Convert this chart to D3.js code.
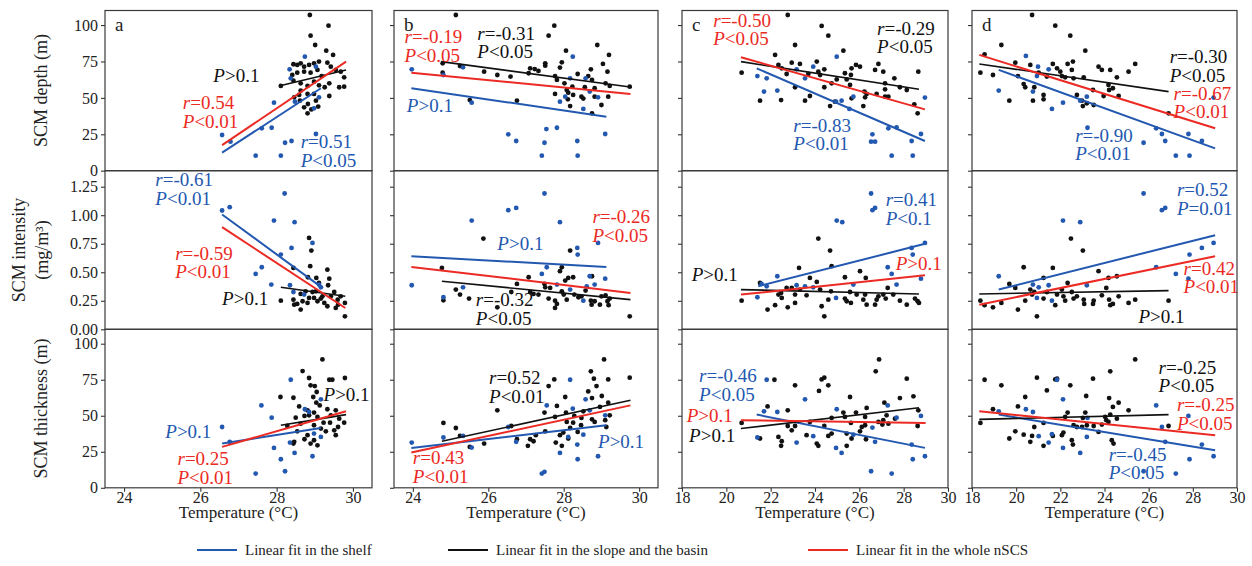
<!DOCTYPE html>
<html>
<head>
<meta charset="utf-8">
<script src="https://cdn.jsdelivr.net/npm/d3@7"></script>
<style>
body { margin: 0; background: #fff; }
svg text { font-family: "Liberation Serif", "Times New Roman", serif; }
</style>
</head>
<body>
<svg id="chart" width="1252" height="566" font-family="Liberation Serif, Times New Roman, serif"></svg>
<script>
// axes
var tempDomain = [[23.5, 30.5], [23.5, 30.5], [18, 30], [18, 30]];
var tempTicks = [[24, 26, 28, 30], [24, 26, 28, 30], [18, 20, 22, 24, 26, 28, 30], [18, 20, 22, 24, 26, 28, 30]];
var valueDomain = [[0, 110], [0, 1.39], [0, 110]];
var valueTicks = [[0, 25, 50, 75, 100], [0, 0.25, 0.5, 0.75, 1, 1.25], [0, 25, 50, 75, 100]];
var rowTitles = [["SCM depth (m)"], ["SCM intensity", "(mg/m\u00b3)"], ["SCM thickness (m)"]];
var panelLetters = ["a", "b", "c", "d"];
var legendItems = [
  {s: "shelf", label: "Linear fit in the shelf"},
  {s: "basin", label: "Linear fit in the slope and the basin"},
  {s: "whole", label: "Linear fit in the whole nSCS"}
];

// SCM depth
var aDepthShelf = [[28.74,78.3],[28.34,69.6],[28.37,63.4],[29.03,71.4],[27.93,46.7],[28.48,47.4],[28.98,42.8],[29.11,50.4],[26.57,24.5],[26.79,19.9],[27.61,29.1],[27.87,29.5],[29.03,25.2],[28.22,19.2],[28.39,20.4],[27.45,10.3],[28.11,10.3]];
var aDepthBasin = [[28.87,106.9],[29.36,99.6],[28.89,92.7],[29.01,86.3],[29.30,82.4],[29.48,79.5],[28.44,73.1],[28.54,72.6],[28.63,73.7],[28.72,71.4],[28.85,72.6],[28.98,73.7],[29.11,74.9],[29.33,74.2],[29.42,71.4],[29.55,69.2],[29.68,68.0],[29.77,64.1],[29.64,57.3],[29.77,57.7],[28.72,68.0],[28.89,67.3],[29.07,69.2],[29.18,65.0],[28.54,67.3],[28.41,65.7],[28.11,58.2],[28.44,61.8],[28.63,60.0],[28.81,58.2],[28.98,61.1],[29.11,58.6],[29.26,57.3],[29.38,60.0],[28.63,55.0],[28.81,52.7],[28.46,50.4],[28.98,52.7],[28.61,48.1],[28.82,45.8],[29.03,48.1],[29.38,51.3],[28.72,43.5],[28.91,42.1],[28.81,39.4],[29.09,44.0],[28.59,52.0]];
var aDepthFit = {shelf: [[26.57,12.4],[29.16,56.6]], basin: [[28.06,58.2],[29.82,69.2]], whole: [[26.57,17.6],[29.82,74.9]]};
var aDepthText = [{s:"basin", x:26.34, y:61.1, lines:["P>0.1"]}, {s:"whole", x:25.54, y:42.2, lines:["r=0.54","P<0.01"]}, {s:"shelf", x:28.63, y:15.4, lines:["r=0.51","P<0.05"]}];

var bDepthShelf = [[23.97,69.6],[24.81,65.7],[25.33,71.0],[25.56,46.7],[28.24,78.3],[28.17,63.4],[27.9,47.4],[28.04,50.8],[28.58,63.4],[28.52,42.4],[28.69,54.3],[28.91,50.4],[26.53,25.0],[26.74,20.4],[27.54,28.6],[27.82,29.5],[27.49,19.2],[27.42,10.3],[28.36,20.4],[28.37,10.3],[29.1,25.2]];
var bDepthBasin = [[25.14,106.9],[27.75,99.6],[27.6,92.7],[28.06,82.4],[28.89,86.3],[29.2,79.5],[24.79,73.7],[24.79,67.3],[25.25,71.9],[25.89,68.0],[26.24,65.7],[26.59,64.6],[27.07,66.9],[27.11,70.3],[27.23,69.8],[27.33,68.5],[27.51,73.7],[27.51,72.1],[27.95,74.4],[27.9,70.8],[27.77,65.0],[27.82,62.3],[28.02,60.0],[27.77,52.7],[28.12,53.6],[28.11,49.0],[28.17,44.4],[28.25,52.0],[28.37,66.4],[28.47,50.8],[28.52,49.5],[28.65,65.0],[28.72,69.6],[28.75,62.3],[28.82,50.8],[28.82,56.6],[28.75,39.4],[29.0,45.1],[29.04,73.3],[29.16,68.0],[29.11,60.0],[29.22,58.2],[29.18,50.8],[29.75,57.7],[25.51,48.5],[26.76,48.1],[28.23,57.7],[28.08,55.4],[28.56,57.3]];
var bDepthFit = {shelf: [[23.96,56.6],[29.13,37.1]], basin: [[24.75,74.9],[29.81,57.3]], whole: [[23.96,67.3],[29.77,52.7]]};
var bDepthText = [{s:"whole", x:23.78, y:87.5, lines:["r=-0.19","P<0.05"]}, {s:"basin", x:25.71, y:89.8, lines:["r=-0.31","P<0.05"]}, {s:"shelf", x:23.84, y:40.5, lines:["P>0.1"]}];

var cDepthShelf = [[21.4,65.0],[21.82,63.4],[21.7,54.3],[22.3,55.0],[23.17,69.6],[23.55,63.4],[23.92,71.4],[24.98,78.3],[24.95,47.4],[25.2,48.1],[25.55,42.4],[25.73,50.8],[26.59,25.0],[26.53,19.9],[26.71,19.9],[27.31,29.1],[27.68,29.8],[27.46,10.3],[28.36,20.4],[28.41,10.3],[28.78,25.2],[28.96,50.2]];
var cDepthBasin = [[20.69,67.3],[21.52,48.1],[22.2,79.5],[22.35,72.6],[22.5,70.3],[22.47,48.5],[22.77,106.9],[22.72,66.4],[22.95,74.2],[23.1,86.3],[23.32,73.3],[23.1,57.3],[23.55,48.1],[23.77,51.3],[23.7,66.4],[24.08,74.9],[24.15,68.0],[24.23,65.7],[24.42,69.6],[24.3,99.4],[24.6,92.7],[24.42,57.3],[24.68,44.4],[24.75,60.0],[24.9,47.4],[24.98,62.7],[25.28,82.4],[25.35,66.9],[25.43,62.7],[25.62,65.7],[25.58,58.9],[25.65,70.3],[25.85,72.6],[26.03,71.4],[25.65,49.7],[26.23,54.3],[26.26,50.4],[26.33,52.7],[26.18,44.4],[26.71,69.2],[26.86,73.3],[27.08,68.0],[27.16,60.0],[27.16,55.9],[27.58,63.4],[27.16,50.8],[27.31,50.8],[27.83,57.3],[28.14,55.4],[26.78,52.7],[28.66,68.0],[28.48,45.6],[28.63,39.4]];
var cDepthFit = {shelf: [[21.37,70.3],[28.96,20.4]], basin: [[20.66,74.9],[28.69,55.9]], whole: [[20.66,77.9],[28.96,42.1]]};
var cDepthText = [{s:"whole", x:19.41, y:98.9, lines:["r=-0.50","P<0.05"]}, {s:"basin", x:26.8, y:93.2, lines:["r=-0.29","P<0.05"]}, {s:"shelf", x:23.02, y:26.8, lines:["r=-0.83","P<0.01"]}];

var dDepthShelf = [[19.21,55.0],[20.44,78.8],[20.76,54.3],[20.94,65.0],[20.99,71.4],[21.47,69.6],[21.62,42.4],[22.12,46.7],[22.9,48.1],[23.2,50.8],[23.23,29.5],[25.77,19.2],[26.34,29.1],[26.6,25.2],[26.75,20.4],[27.23,10.3],[27.8,25.2],[27.85,10.3],[28.41,20.4],[28.94,50.2]];
var dDepthBasin = [[18.38,67.3],[18.57,79.9],[18.95,65.7],[19.33,86.3],[19.69,48.1],[19.96,74.2],[20.08,65.0],[20.34,59.5],[20.41,57.3],[20.64,72.6],[20.72,106.9],[20.82,57.3],[20.76,48.1],[21.02,67.3],[21.24,52.0],[21.24,49.0],[21.39,64.6],[21.66,73.3],[21.77,99.6],[21.85,70.3],[22.0,68.0],[22.07,65.0],[22.22,64.1],[22.33,73.3],[22.45,92.7],[22.52,69.2],[22.57,74.9],[22.6,63.4],[22.75,52.0],[22.98,48.1],[23.06,64.1],[23.02,44.4],[23.13,82.4],[23.2,46.3],[23.51,45.1],[23.48,55.4],[23.73,71.4],[23.88,69.2],[23.96,51.3],[24.18,58.9],[24.21,55.4],[24.26,69.2],[24.38,56.6],[24.56,64.1],[24.64,51.3],[25.09,68.0],[25.39,73.3],[26.9,39.4]];
var dDepthFit = {shelf: [[19.21,69.2],[29.01,15.3]], basin: [[18.33,73.3],[26.9,54.3]], whole: [[18.33,79.5],[29.01,29.1]]};
var dDepthText = [{s:"basin", x:26.95, y:73.8, lines:["r=-0.30","P<0.05"]}, {s:"whole", x:27.13, y:48.6, lines:["r=-0.67","P<0.01"]}, {s:"shelf", x:22.67, y:19.9, lines:["r=-0.90","P<0.01"]}];

// SCM intensity
var aIntShelf = [[26.57,1.041],[26.77,1.070],[28.21,1.190],[27.93,0.953],[28.47,0.939],[28.39,0.713],[28.11,0.655],[28.94,0.757],[27.61,0.544],[27.45,0.485],[27.86,0.392],[28.35,0.386],[28.44,0.327],[28.72,0.304],[29.16,0.368],[29.11,0.392]];
var aIntBasin = [[28.85,0.801],[28.91,0.690],[28.88,0.553],[28.44,0.538],[28.82,0.456],[29.04,0.450],[29.33,0.523],[29.11,0.406],[29.38,0.444],[29.35,0.386],[28.11,0.251],[28.44,0.260],[28.63,0.310],[28.76,0.333],[28.94,0.327],[28.98,0.275],[28.54,0.222],[28.63,0.173],[28.81,0.231],[29.07,0.246],[29.2,0.289],[29.25,0.231],[29.42,0.289],[29.51,0.327],[29.6,0.260],[29.61,0.216],[29.68,0.289],[29.79,0.231],[29.79,0.114],[28.85,0.275],[28.68,0.246],[28.46,0.216],[29.33,0.202],[29.55,0.187],[29.03,0.333],[29.16,0.269]];
var aIntFit = {shelf: [[26.57,1.006],[29.2,0.363]], basin: [[28.11,0.368],[29.8,0.289]], whole: [[26.57,0.895],[29.8,0.187]]};
var aIntText = [{s:"shelf", x:24.82, y:1.252, lines:["r=-0.61","P<0.01"]}, {s:"whole", x:25.34, y:0.609, lines:["r=-0.59","P<0.01"]}, {s:"basin", x:26.57, y:0.215, lines:["P>0.1"]}];

var bIntShelf = [[23.97,0.386],[24.81,0.281],[25.33,0.368],[25.56,0.953],[26.53,1.044],[26.74,1.064],[27.49,1.190],[27.9,0.939],[28.36,0.713],[28.37,0.655],[28.91,0.757],[27.55,0.544],[27.42,0.485],[27.82,0.392],[28.17,0.348],[28.52,0.251],[28.69,0.465],[28.82,0.392],[29.1,0.444],[28.61,0.377]];
var bIntBasin = [[24.77,0.538],[24.81,0.254],[25.14,0.348],[25.25,0.304],[25.49,0.269],[25.87,0.795],[26.24,0.193],[26.61,0.327],[26.76,0.398],[27.07,0.456],[27.11,0.327],[27.2,0.310],[27.33,0.304],[27.49,0.398],[27.51,0.368],[27.6,0.269],[27.77,0.251],[27.77,0.187],[27.82,0.222],[27.9,0.509],[27.95,0.544],[28.04,0.427],[28.0,0.304],[28.08,0.260],[28.12,0.450],[28.17,0.690],[28.25,0.456],[28.28,0.304],[28.39,0.281],[28.47,0.289],[28.58,0.339],[28.72,0.251],[28.74,0.216],[28.75,0.465],[28.82,0.246],[28.96,0.216],[29.0,0.289],[29.11,0.298],[29.16,0.246],[29.19,0.211],[29.22,0.269],[29.75,0.114],[27.64,0.363],[27.95,0.333]];
var bIntFit = {shelf: [[23.96,0.640],[29.13,0.547]], basin: [[24.77,0.421],[29.77,0.260]], whole: [[23.96,0.547],[29.77,0.319]]};
var bIntText = [{s:"shelf", x:26.24, y:0.697, lines:["P>0.1"]}, {s:"whole", x:28.76, y:0.931, lines:["r=-0.26","P<0.05"]}, {s:"basin", x:25.67, y:0.201, lines:["r=-0.32","P<0.05"]}];

var cIntShelf = [[21.4,0.281],[21.59,0.398],[21.82,0.377],[22.3,0.465],[23.17,0.386],[23.55,0.377],[23.92,0.368],[24.98,0.953],[25.23,0.939],[24.95,0.275],[25.73,0.392],[26.53,1.190],[26.59,1.044],[26.71,1.064],[27.28,0.544],[27.46,0.485],[27.68,0.392],[28.36,0.713],[28.41,0.655],[28.78,0.444],[28.96,0.757]];
var cIntBasin = [[20.69,0.251],[21.52,0.406],[21.86,0.173],[22.2,0.211],[22.35,0.304],[22.5,0.275],[22.47,0.319],[22.72,0.363],[22.77,0.193],[22.95,0.363],[23.1,0.304],[23.1,0.231],[23.28,0.538],[23.32,0.348],[23.62,0.298],[23.77,0.450],[24.08,0.415],[24.15,0.795],[24.23,0.348],[24.3,0.202],[24.42,0.114],[24.6,0.260],[24.68,0.690],[24.75,0.553],[24.72,0.333],[25.35,0.456],[25.35,0.269],[25.43,0.246],[25.58,0.327],[25.62,0.231],[25.88,0.304],[26.03,0.509],[26.18,0.260],[26.26,0.304],[26.33,0.216],[26.29,0.450],[26.71,0.216],[26.78,0.260],[26.86,0.289],[27.08,0.304],[27.19,0.269],[27.28,0.363],[27.53,0.304],[27.83,0.251],[28.14,0.216],[28.51,0.269],[28.63,0.246],[28.69,0.231]];
var cIntFit = {shelf: [[21.44,0.377],[28.96,0.749]], basin: [[20.66,0.348],[28.69,0.310]], whole: [[20.66,0.304],[28.96,0.474]]};
var cIntText = [{s:"shelf", x:27.19, y:1.077, lines:["r=0.41","P<0.1"]}, {s:"whole", x:27.64, y:0.522, lines:["P>0.1"]}, {s:"basin", x:18.44, y:0.420, lines:["P>0.1"]}];

var dIntShelf = [[19.21,0.465],[20.76,0.392],[21.02,0.368],[20.94,0.275],[21.47,0.386],[21.62,0.251],[22.12,0.953],[22.9,0.939],[23.2,0.386],[25.77,1.190],[26.6,1.044],[26.75,1.064],[26.34,0.544],[27.23,0.485],[27.8,0.444],[27.85,0.655],[28.41,0.713],[28.94,0.757]];
var dIntBasin = [[18.38,0.251],[18.57,0.211],[18.95,0.193],[19.33,0.231],[19.69,0.398],[19.96,0.363],[20.08,0.173],[20.34,0.544],[20.41,0.251],[20.64,0.348],[20.72,0.304],[20.82,0.327],[20.94,0.114],[21.24,0.450],[21.24,0.269],[21.39,0.327],[21.66,0.538],[21.77,0.211],[21.85,0.304],[22.07,0.348],[22.14,0.289],[22.22,0.251],[22.33,0.406],[22.48,0.795],[22.52,0.327],[22.6,0.269],[22.75,0.289],[23.02,0.690],[23.06,0.260],[23.08,0.222],[23.48,0.222],[23.51,0.251],[23.73,0.509],[23.88,0.298],[24.08,0.363],[24.18,0.450],[24.21,0.260],[24.26,0.211],[24.38,0.222],[24.56,0.465],[24.64,0.289],[25.09,0.231],[25.39,0.260],[26.9,0.251]];
var dIntFit = {shelf: [[19.21,0.348],[29.01,0.825]], basin: [[18.33,0.310],[26.9,0.339]], whole: [[18.33,0.216],[29.01,0.640]]};
var dIntText = [{s:"shelf", x:27.28, y:1.165, lines:["r=0.52","P=0.01"]}, {s:"whole", x:27.58, y:0.478, lines:["r=0.42","P<0.01"]}, {s:"basin", x:25.54, y:0.055, lines:["P>0.1"]}];

// SCM thickness
var aThickShelf = [[26.57,42.2],[26.77,31.9],[27.6,57.2],[27.87,48.7],[28.37,75.0],[28.74,54.5],[28.85,52.6],[29.16,61.4],[28.98,37.6],[29.16,35.3],[27.93,27.7],[28.35,31.4],[28.47,24.2],[28.11,19.8],[28.94,21.9],[27.45,9.9],[28.22,11.5]];
var aThickBasin = [[29.2,89.1],[28.68,81.0],[28.85,76.2],[29.38,75.0],[29.46,75.0],[29.79,76.2],[28.89,71.1],[29.0,70.6],[29.05,66.5],[28.1,63.0],[28.44,62.5],[28.96,63.0],[29.04,59.1],[29.13,57.2],[28.59,56.5],[28.81,53.8],[29.33,54.5],[29.55,53.8],[28.98,52.2],[28.5,48.7],[28.73,49.9],[28.85,50.3],[29.07,49.2],[29.23,45.2],[29.4,45.2],[29.77,45.2],[29.61,42.2],[29.64,48.0],[28.63,44.5],[28.54,39.2],[28.73,33.7],[28.81,36.5],[28.98,33.0],[29.07,29.5],[28.89,30.7],[28.46,31.9],[28.44,30.7],[29.29,39.2],[29.55,36.5],[28.28,42.9],[28.98,43.4],[29.16,41.1],[29.42,50.3],[29.51,39.9]];
var aThickFit = {shelf: [[26.57,30.7],[29.16,41.5]], basin: [[28.11,43.4],[29.82,50.8]], whole: [[26.57,28.4],[29.82,53.1]]};
var aThickText = [{s:"basin", x:29.23, y:60.1, lines:["P>0.1"]}, {s:"shelf", x:25.08, y:34.3, lines:["P>0.1"]}, {s:"whole", x:25.4, y:15.8, lines:["r=0.25","P<0.01"]}];

var bThickShelf = [[23.97,31.4],[24.81,34.9],[25.33,36.0],[25.56,27.9],[26.53,42.2],[26.74,31.9],[27.55,57.2],[27.42,9.9],[27.49,11.1],[27.9,24.2],[28.17,75.0],[28.24,54.9],[28.36,30.0],[28.37,19.8],[28.58,61.4],[28.52,36.9],[28.91,21.9],[29.1,50.3],[28.69,53.8],[28.12,35.3]];
var bThickBasin = [[24.81,45.0],[25.14,41.5],[25.25,36.0],[25.51,28.4],[25.89,30.7],[26.24,53.8],[26.61,42.9],[26.76,33.7],[27.05,29.1],[27.11,33.7],[27.2,32.3],[27.26,36.5],[27.49,52.2],[27.51,39.2],[27.6,70.6],[27.75,75.2],[27.77,49.2],[27.79,31.4],[27.82,56.8],[27.9,36.5],[27.95,29.1],[27.99,38.3],[28.04,63.0],[28.06,52.2],[28.08,45.7],[28.12,34.2],[28.17,41.5],[28.25,45.2],[28.28,49.9],[28.37,38.8],[28.46,43.4],[28.47,48.5],[28.52,53.1],[28.65,66.9],[28.72,80.8],[28.75,47.5],[28.75,62.3],[28.8,75.7],[28.87,70.6],[28.82,45.7],[29.01,63.7],[29.07,89.1],[29.1,46.9],[29.13,42.2],[29.18,75.2],[29.18,59.1],[29.22,50.3],[29.75,76.4],[28.96,56.1]];
var bThickFit = {shelf: [[23.96,27.7],[29.13,43.4]], basin: [[24.77,32.3],[29.77,60.7]], whole: [[23.96,24.5],[29.77,57.2]]};
var bThickText = [{s:"basin", x:26.02, y:71.7, lines:["r=0.52","P<0.01"]}, {s:"shelf", x:28.91, y:27.8, lines:["P>0.1"]}, {s:"whole", x:24.0, y:16.3, lines:["r=0.43","P<0.01"]}];

var cThickShelf = [[21.4,34.9],[21.7,53.1],[21.82,75.0],[22.3,52.6],[23.17,31.4],[23.55,61.4],[23.92,35.8],[24.95,27.7],[24.98,54.5],[25.2,24.2],[25.73,36.9],[26.53,11.5],[26.59,41.8],[26.71,31.9],[27.28,57.2],[27.46,9.9],[27.68,48.7],[28.36,30.0],[28.41,19.8],[28.78,49.9],[28.96,21.9]];
var cThickBasin = [[20.69,45.0],[21.52,34.2],[21.86,56.5],[22.17,75.0],[22.35,35.3],[22.5,32.3],[22.47,29.1],[22.77,53.8],[22.77,42.9],[22.95,39.9],[23.1,71.1],[23.1,42.9],[23.62,36.5],[23.77,45.7],[24.08,30.7],[24.15,29.1],[24.18,67.2],[24.3,75.2],[24.42,76.4],[24.6,71.1],[24.42,42.9],[24.6,36.0],[24.75,37.6],[24.75,48.5],[25.28,52.2],[25.35,49.2],[25.43,37.6],[25.43,29.1],[25.58,63.0],[25.62,45.0],[25.65,34.2],[25.85,52.2],[26.03,39.2],[26.11,42.2],[26.26,49.2],[26.26,43.4],[26.33,55.4],[26.3,33.7],[26.74,80.8],[26.89,89.1],[27.04,43.9],[27.08,46.9],[27.13,59.1],[27.23,50.3],[27.61,48.0],[27.83,62.3],[28.14,75.7],[28.44,63.5],[28.66,53.8],[28.63,42.9],[27.31,44.5],[26.86,45.7]];
var cThickFit = {shelf: [[21.37,50.8],[28.96,27.7]], basin: [[20.66,41.1],[28.69,55.6]], whole: [[20.66,46.9],[28.99,45.0]]};
var cThickText = [{s:"shelf", x:18.77, y:73.1, lines:["r=-0.46","P<0.05"]}, {s:"whole", x:18.21, y:45.8, lines:["P>0.1"]}, {s:"basin", x:18.32, y:31.5, lines:["P>0.1"]}];

var dThickShelf = [[19.21,53.1],[20.44,54.5],[20.76,52.6],[21.02,35.8],[21.47,31.4],[21.62,37.2],[21.85,75.0],[22.12,61.4],[22.12,27.7],[22.9,24.2],[23.2,35.3],[23.23,48.5],[25.77,11.5],[26.34,57.2],[26.6,42.2],[26.75,31.9],[27.23,9.9],[27.8,49.9],[27.85,19.8],[28.41,30.0],[28.94,21.9]];
var dThickBasin = [[18.38,45.0],[18.57,75.0],[18.95,54.5],[19.33,71.1],[19.69,34.2],[19.96,39.2],[20.08,56.5],[20.34,36.9],[20.41,63.0],[20.64,31.9],[20.72,36.0],[20.82,42.2],[20.94,76.4],[21.24,29.1],[21.24,45.0],[21.39,67.6],[21.66,36.0],[21.77,75.2],[21.85,75.7],[22.07,36.5],[22.14,38.3],[22.22,49.2],[22.33,52.2],[22.45,71.1],[22.52,33.0],[22.57,30.0],[22.6,43.4],[22.75,42.2],[22.98,42.2],[23.02,48.5],[23.13,52.2],[23.17,63.7],[23.2,43.4],[23.48,75.7],[23.51,42.9],[23.73,38.8],[23.88,43.9],[24.08,46.9],[24.18,45.7],[24.21,62.3],[24.26,80.8],[24.26,50.8],[24.33,33.0],[24.38,56.1],[24.41,30.7],[24.56,48.0],[24.64,59.1],[25.09,53.8],[25.39,89.1],[26.9,42.9],[24.03,49.2]];
var dThickFit = {shelf: [[19.21,50.8],[29.01,26.1]], basin: [[18.33,47.5],[26.9,50.8]], whole: [[18.33,53.1],[29.01,36.5]]};
var dThickText = [{s:"basin", x:26.45, y:79.3, lines:["r=-0.25","P<0.05"]}, {s:"whole", x:27.28, y:53.2, lines:["r=-0.25","P<0.05"]}, {s:"shelf", x:24.19, y:18.6, lines:["r=-0.45","P<0.05"]}];

var panels = [
  {row:0, col:0, shelf:aDepthShelf, basin:aDepthBasin, fit:aDepthFit, text:aDepthText},
  {row:0, col:1, shelf:bDepthShelf, basin:bDepthBasin, fit:bDepthFit, text:bDepthText},
  {row:0, col:2, shelf:cDepthShelf, basin:cDepthBasin, fit:cDepthFit, text:cDepthText},
  {row:0, col:3, shelf:dDepthShelf, basin:dDepthBasin, fit:dDepthFit, text:dDepthText},
  {row:1, col:0, shelf:aIntShelf, basin:aIntBasin, fit:aIntFit, text:aIntText},
  {row:1, col:1, shelf:bIntShelf, basin:bIntBasin, fit:bIntFit, text:bIntText},
  {row:1, col:2, shelf:cIntShelf, basin:cIntBasin, fit:cIntFit, text:cIntText},
  {row:1, col:3, shelf:dIntShelf, basin:dIntBasin, fit:dIntFit, text:dIntText},
  {row:2, col:0, shelf:aThickShelf, basin:aThickBasin, fit:aThickFit, text:aThickText},
  {row:2, col:1, shelf:bThickShelf, basin:bThickBasin, fit:bThickFit, text:bThickText},
  {row:2, col:2, shelf:cThickShelf, basin:cThickBasin, fit:cThickFit, text:cThickText},
  {row:2, col:3, shelf:dThickShelf, basin:dThickBasin, fit:dThickFit, text:dThickText}
];

// layout
var colLeft = [105, 394, 682, 972], colWidth = [267, 264, 266, 265];
var rowTop = [10.5, 170.7, 329.3], rowBottom = [170.7, 329.3, 487.8];
var colorOf = {shelf: "#2358b0", basin: "#111111", whole: "#ec2a24"};
var tickFmt = [d3.format("d"), d3.format(".2f"), d3.format("d")];
var serif = "Liberation Serif, Times New Roman, serif";

var svg = d3.select("#chart");

function styleAxis(sel) {
    sel.attr("font-family", serif);
    sel.select(".domain").remove();
    sel.selectAll(".tick line").attr("stroke", "#333").attr("stroke-width", 1.1);
    sel.selectAll(".tick text").style("font-size", "16px").style("font-family", serif).attr("fill", "#222");
}

panels.forEach(function(p) {
    var x = d3.scaleLinear().domain(tempDomain[p.col]).range([colLeft[p.col], colLeft[p.col] + colWidth[p.col]]);
    var y = d3.scaleLinear().domain(valueDomain[p.row]).range([rowBottom[p.row], rowTop[p.row]]);
    var g = svg.append("g");

    var yAxis = d3.axisLeft(y).tickValues(valueTicks[p.row]).tickSize(4).tickPadding(3)
        .tickFormat(p.col == 0 ? tickFmt[p.row] : "");
    g.append("g").attr("transform", "translate(" + x.range()[0] + ",0)").call(yAxis).call(styleAxis);

    if (p.row == 2) {
        var xAxis = d3.axisBottom(x).tickValues(tempTicks[p.col]).tickSize(4).tickPadding(0).tickFormat(d3.format("d"));
        g.append("g").attr("transform", "translate(0," + y.range()[0] + ")").call(xAxis).call(styleAxis);
    }

    g.append("g").selectAll("circle")
        .data(p.basin).enter().append("circle")
        .attr("cx", d => x(d[0])).attr("cy", d => y(d[1]))
        .attr("r", 2.4).style("fill", colorOf.basin);

    g.append("g").selectAll("circle")
        .data(p.shelf).enter().append("circle")
        .attr("cx", d => x(d[0])).attr("cy", d => y(d[1]))
        .attr("r", 2.4).style("fill", colorOf.shelf);

    ["shelf", "basin", "whole"].forEach(function(s) {
        var f = p.fit[s];
        g.append("line")
            .attr("x1", x(f[0][0])).attr("y1", y(f[0][1]))
            .attr("x2", x(f[1][0])).attr("y2", y(f[1][1]))
            .attr("stroke", colorOf[s]).attr("stroke-width", s == "basin" ? 1.6 : 2);
    });

    p.text.forEach(function(t) {
        t.lines.forEach(function(line, i) {
            var el = g.append("text")
                .attr("x", x(t.x)).attr("y", y(t.y) + i * 18.5)
                .style("font-family", serif).style("font-size", "19px").style("fill", colorOf[t.s]);
            el.append("tspan").style("font-style", "italic").text(line.charAt(0));
            el.append("tspan").text(line.slice(1));
        });
    });

    g.append("rect")
        .attr("x", x.range()[0]).attr("y", y.range()[1])
        .attr("width", x.range()[1] - x.range()[0]).attr("height", y.range()[0] - y.range()[1])
        .attr("fill", "none").attr("stroke", "#3a3a3a").attr("stroke-width", 1.2);

    if (p.row == 0) {
        g.append("text").attr("x", x.range()[0] + 10).attr("y", y.range()[1] + 20)
            .style("font-family", serif).style("font-size", "19px").style("fill", "#222").text(panelLetters[p.col]);
    }
    if (p.row == 2) {
        g.append("text").attr("x", (x.range()[0] + x.range()[1]) / 2).attr("y", 518)
            .style("text-anchor", "middle").style("font-family", serif).style("font-size", "17px").style("fill", "#222")
            .text("Temperature (\u00b0C)");
    }
});

// row titles
rowTitles.forEach(function(lines, r) {
    var cy = (rowTop[r] + rowBottom[r]) / 2;
    lines.forEach(function(line, i) {
        var bx = lines.length == 1 ? 47 : (i == 0 ? 25 : 48);
        svg.append("text")
            .attr("transform", "translate(" + bx + "," + cy + ") rotate(-90)")
            .style("text-anchor", "middle").style("font-family", serif).style("font-size", "18px").style("fill", "#222")
            .text(line);
    });
});

// legend
var legendX = [197, 448, 808];
var legendG = svg.append("g").attr("class", "legend");
legendItems.forEach(function(item, i) {
    legendG.append("line")
        .attr("x1", legendX[i]).attr("x2", legendX[i] + 40).attr("y1", 550).attr("y2", 550)
        .attr("stroke", colorOf[item.s]).attr("stroke-width", 2);
    legendG.append("text")
        .attr("x", legendX[i] + 48).attr("y", 555)
        .style("font-family", serif).style("font-size", "15px").style("fill", "#222")
        .text(item.label);
});
</script>
</body>
</html>
